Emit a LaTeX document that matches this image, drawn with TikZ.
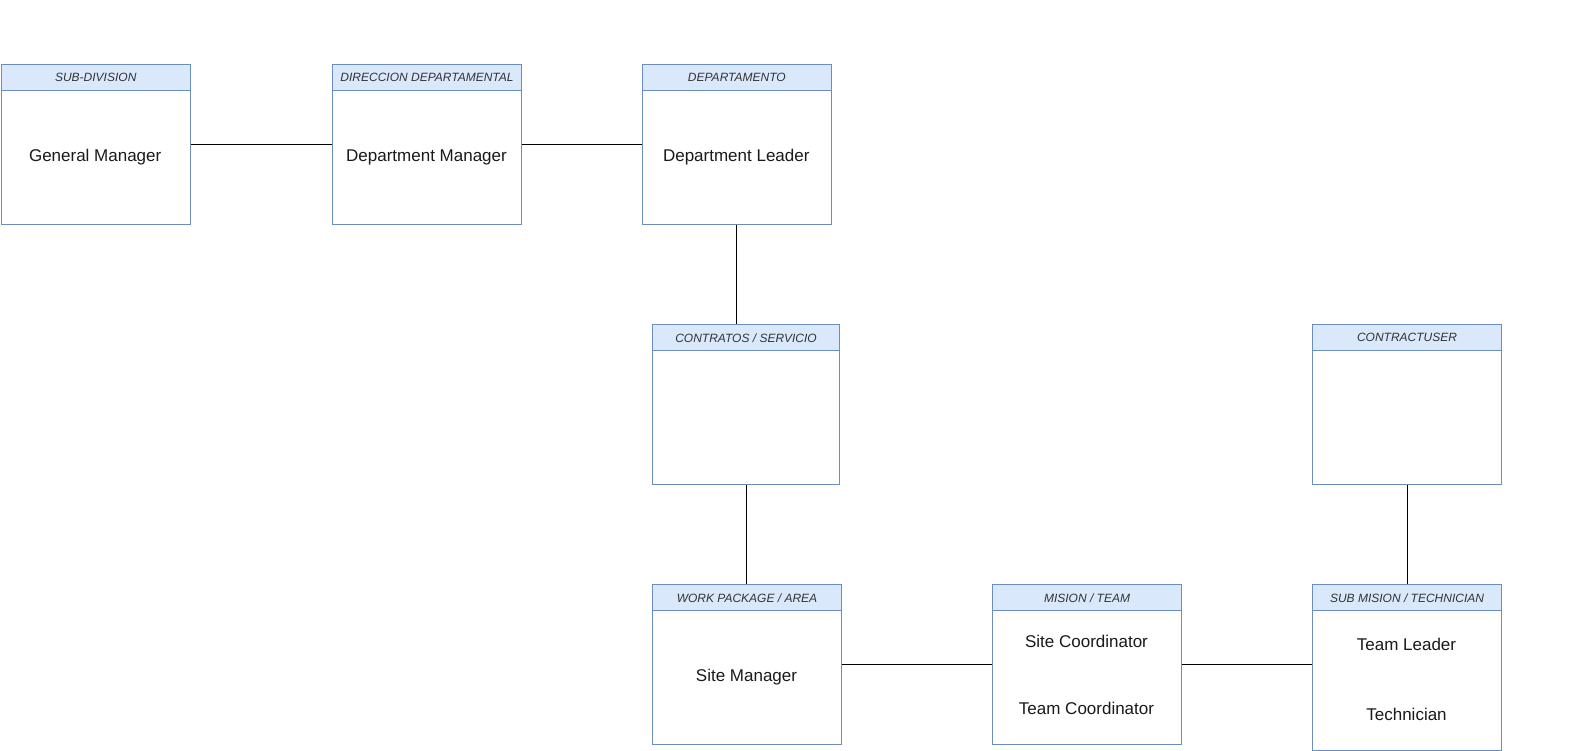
\documentclass[tikz,border=0pt]{standalone}
\usepackage{fontspec}
\setmainfont{Liberation Sans}
\definecolor{boxline}{HTML}{6C8EBF}
\definecolor{hdrfill}{HTML}{DAE8FC}
\definecolor{txt}{HTML}{1A1A1A}
\definecolor{hdrtxt}{HTML}{333333}
\newcommand{\entity}[6]{%
  \node[entbox, minimum width=#4pt, minimum height=#5pt, anchor=north west] (#1) at (#2,#3) {};
  \node[enthdr, minimum width=#4pt, anchor=north west] (#1h) at (#2,#3) {#6};
}
\begin{document}
\begin{tikzpicture}[x=1pt,y=-1pt,
  entbox/.style={draw=boxline, line width=1pt, fill=white, inner sep=0pt},
  enthdr/.style={draw=boxline, line width=1pt, fill=hdrfill, inner sep=0pt, minimum height=26pt,
    font=\fontsize{12}{14}\selectfont\itshape, text=hdrtxt},
  body/.style={font=\fontsize{17}{20}\selectfont, text=txt, inner sep=0pt},
  conn/.style={draw=black, line width=1pt}]
\useasboundingbox (0,0) rectangle (1587,751);
\entity{b1}{0.5}{64.3}{189.5}{160}{SUB-DIVISION}
\entity{b2}{331.7}{64.3}{189.6}{160}{DIRECCION DEPARTAMENTAL}
\entity{b3}{641.7}{64.3}{189.3}{160}{DEPARTAMENTO}
\entity{b4}{651.7}{324.3}{187.6}{160}{CONTRATOS / SERVICIO}
\entity{b5}{651.7}{584.3}{189.6}{160}{WORK PACKAGE / AREA}
\entity{b6}{991.7}{584.3}{189.6}{160}{MISION / TEAM}
\entity{b7}{1311.7}{584.3}{189.6}{166}{SUB MISION / TECHNICIAN}
\entity{b8}{1311.7}{324.3}{189.6}{160}{CONTRACTUSER}
\node[body] (t1) at (95.2,157.5) {General Manager};
\node[body] (t2) at (426.5,157.5) {Department Manager};
\node[body] (t3) at (736.3,157.5) {Department Leader};
\node[body] (t5) at (746.5,677) {Site Manager};
\node[body] (t6a) at (1086.5,641.5) {Site Coordinator};
\node[body] (t6b) at (1086.5,708) {Team Coordinator};
\node[body] (t7a) at (1406.5,644.5) {Team Leader};
\node[body] (t7b) at (1406.5,714) {Technician};
\draw[conn] (b1.east) -- (b2.west);
\draw[conn] (b2.east) -- (b3.west);
\draw[conn] (b3.south) -- (b3.south |- b4.north);
\draw[conn] (b4.south) -- (b4.south |- b5.north);
\draw[conn] (b5.east) -- (b6.west);
\draw[conn] (b6.east) -- (b6.east -| b7.west);
\draw[conn] (b8.south) -- (b7.north);
\end{tikzpicture}
\end{document}
